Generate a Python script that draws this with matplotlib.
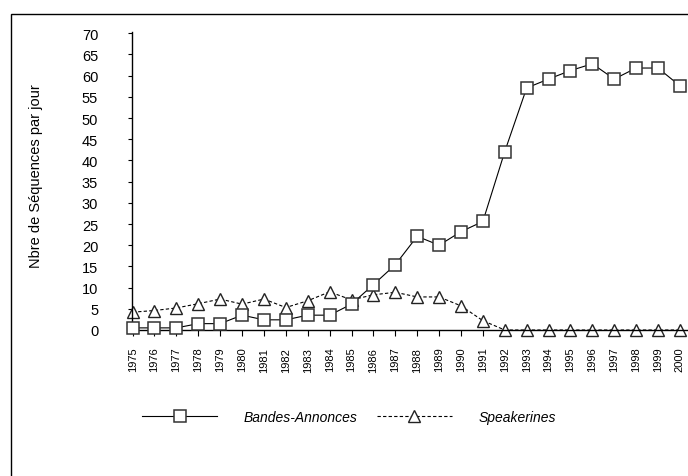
import matplotlib
matplotlib.use("Agg")
import matplotlib.pyplot as plt
from matplotlib.patches import Rectangle

plt.rcParams['font.family'] = ['Liberation Sans', 'DejaVu Sans']

years = list(range(1975, 2001))
bandes_annonces = [0.5, 0.5, 0.5, 1.5, 1.5, 3.5, 2.4, 2.4, 3.5, 3.5, 6.1, 10.7, 15.4,
                   22.1, 20.0, 23.2, 25.6, 42.1, 57.1, 59.2, 61.2, 62.8, 59.2, 61.8, 61.8, 57.6]
speakerines = [4.2, 4.6, 5.2, 6.2, 7.3, 6.1, 7.3, 5.3, 6.9, 9.0, 7.1, 8.3, 8.9,
               7.8, 7.8, 5.7, 2.2, 0, 0, 0, 0, 0, 0, 0, 0, 0]
yticks = list(range(0, 75, 5))
series_labels = ['Bandes-Annonces', 'Speakerines']

W, H = 688, 477
fig = plt.figure(figsize=(W / 100, H / 100), dpi=100)
ax = fig.add_axes([131.5 / W, 1 - 331 / H, 1 - 131.5 / W, (331 - 33) / H])

l1, = ax.plot(years, bandes_annonces, color='black', lw=0.8, marker='s', ms=8.3,
              mfc='white', mec='#333333', mew=1.1, clip_on=False, zorder=3)
l2, = ax.plot(years, speakerines, color='black', lw=0.8, ls=(0, (3, 2)), marker='^', ms=8,
              mfc='white', mec='#222222', mew=1.0, clip_on=False, zorder=2)

ax.set_xlim(1974.95, 2000.37)
ax.set_ylim(0, 70.3)
ax.set_yticks(yticks)
ax.set_yticklabels([str(v) for v in yticks], fontsize=10.5)
ax.set_xticks(years)
ax.set_xticklabels([str(y) for y in years], rotation=90, fontsize=8)
ax.tick_params(axis='y', direction='out', length=3, width=0.8, pad=21)
ax.tick_params(axis='x', direction='out', length=4, width=0.8, pad=8)
for s in ['top', 'right']:
    ax.spines[s].set_visible(False)
for s in ['left', 'bottom']:
    ax.spines[s].set_linewidth(1.0)
ax.set_ylabel('Nbre de Séquences par jour', fontsize=10.5)
ax.yaxis.set_label_coords((43 - 131.5) / (W - 131.5), (331 - 176) / 298)

leg = fig.legend([l1, l2], series_labels, loc='center', bbox_to_anchor=(349 / W, 1 - 418 / H),
                 ncol=2, frameon=False, handlelength=5.4, handletextpad=1.9,
                 columnspacing=1.4, prop={'style': 'italic', 'size': 10}, numpoints=1)

fig.patches.append(Rectangle((10.5 / W, -0.5), 2, 1.5 - 14.5 / H, transform=fig.transFigure,
                             fill=False, edgecolor='black', lw=1.0))

fig.savefig('out.png', dpi=100)
